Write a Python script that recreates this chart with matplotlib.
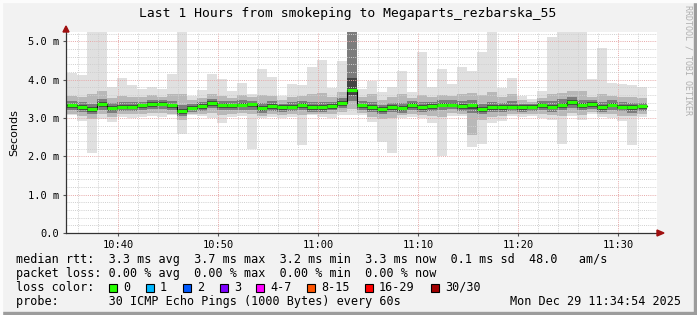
import numpy as np
import matplotlib
matplotlib.use("Agg")
import matplotlib.pyplot as plt
from matplotlib.patches import Rectangle, Polygon

# minutes after 10:00, one bar per minute
start = 34.9
median = [3.34,3.29,3.24,3.36,3.26,3.30,3.30,3.33,3.38,3.38,3.33,3.19,3.26,3.31,3.40,3.34,3.34,3.35,3.36,3.26,
          3.32,3.28,3.30,3.34,3.29,3.29,3.32,3.40,3.74,3.34,3.29,3.23,3.29,3.26,3.34,3.29,3.32,3.35,3.35,3.32,
          3.33,3.24,3.28,3.29,3.30,3.29,3.29,3.34,3.30,3.35,3.41,3.34,3.36,3.29,3.35,3.30,3.29,3.31]
rtt_max = [4.18,4.12,5.3,5.3,3.80,4.04,3.86,3.76,3.80,3.76,4.15,5.3,3.58,3.73,4.15,4.02,3.70,3.91,3.64,4.28,
           4.07,3.59,3.89,3.86,4.33,4.51,3.78,4.49,5.3,3.75,3.97,3.68,3.82,4.24,3.69,4.72,3.80,4.28,3.88,4.33,
           4.22,4.73,5.3,3.78,4.04,3.57,3.50,3.71,5.11,5.3,5.3,5.3,4.02,4.82,3.92,3.89,3.86,3.80]
rtt_min = [3.07,2.93,2.08,2.98,2.89,3.02,3.00,3.02,3.05,3.02,3.07,2.58,3.07,3.05,3.00,2.87,3.02,3.05,2.20,3.00,
           3.02,3.00,3.02,2.30,3.07,3.02,3.00,3.07,3.07,3.07,2.89,2.37,2.08,3.00,3.02,3.00,2.87,2.00,3.05,3.05,
           2.24,2.33,2.87,2.93,3.05,3.02,3.05,3.00,2.95,2.33,3.05,2.95,3.10,3.02,3.00,2.93,2.30,3.02]
p90 = [3.58,3.55,3.62,3.70,3.52,3.58,3.55,3.55,3.60,3.56,3.62,3.62,3.48,3.52,3.62,3.58,3.52,3.60,3.54,3.60,
       3.58,3.48,3.55,3.58,3.62,3.66,3.55,3.68,5.30,3.56,3.62,3.48,3.55,3.62,3.52,3.60,3.56,3.60,3.58,3.62,
       3.66,3.60,3.68,3.54,3.62,3.46,3.42,3.52,3.62,3.66,3.72,3.70,3.56,3.62,3.58,3.56,3.56,3.52]
p75 = [3.45,3.42,3.38,3.50,3.40,3.42,3.42,3.43,3.48,3.47,3.45,3.34,3.38,3.42,3.50,3.45,3.44,3.46,3.45,3.40,
       3.44,3.38,3.41,3.45,3.42,3.42,3.43,3.52,5.30,3.44,3.42,3.34,3.40,3.40,3.44,3.42,3.42,3.46,3.46,3.45,
       3.48,3.38,3.42,3.40,3.44,3.38,3.37,3.44,3.44,3.50,3.54,3.48,3.46,3.42,3.46,3.42,3.40,3.40]
p60 = [3.38,3.33,3.29,3.41,3.31,3.35,3.35,3.37,3.42,3.42,3.38,3.24,3.31,3.36,3.45,3.39,3.38,3.40,3.40,3.31,
       3.37,3.33,3.35,3.39,3.34,3.34,3.37,3.45,4.05,3.38,3.34,3.28,3.34,3.31,3.39,3.34,3.37,3.40,3.40,3.37,
       3.38,3.29,3.33,3.34,3.35,3.34,3.33,3.39,3.35,3.40,3.46,3.39,3.41,3.34,3.40,3.35,3.34,3.35]
p40 = [3.27,3.22,3.17,3.28,3.19,3.23,3.24,3.26,3.30,3.31,3.26,3.12,3.20,3.24,3.32,3.26,3.27,3.28,3.28,3.19,
       3.25,3.21,3.23,3.27,3.22,3.22,3.25,3.32,3.60,3.27,3.22,3.16,3.21,3.19,3.27,3.21,3.25,3.28,3.28,3.25,
       3.24,3.16,3.21,3.22,3.23,3.22,3.23,3.27,3.23,3.27,3.33,3.27,3.29,3.22,3.28,3.23,3.21,3.24]
p25 = [3.22,3.17,3.11,3.22,3.14,3.18,3.19,3.21,3.24,3.25,3.21,3.06,3.15,3.19,3.26,3.20,3.21,3.22,3.22,3.13,
       3.19,3.16,3.18,3.21,3.17,3.17,3.20,3.26,3.45,3.22,3.16,3.10,3.15,3.14,3.21,3.16,3.19,3.22,3.23,3.19,
       3.14,3.10,3.15,3.16,3.18,3.17,3.18,3.22,3.17,3.20,3.26,3.21,3.24,3.16,3.22,3.18,3.14,3.19]
p10 = [3.12,3.06,2.98,3.10,3.03,3.10,3.10,3.12,3.14,3.14,3.12,2.96,3.10,3.12,3.14,3.08,3.12,3.14,3.10,3.06,
       3.10,3.08,3.10,3.08,3.12,3.10,3.10,3.16,3.25,3.14,3.04,2.98,3.00,3.08,3.12,3.08,3.06,3.04,3.14,3.12,
       2.55,2.95,3.04,3.06,3.12,3.10,3.12,3.10,3.08,3.05,3.14,3.08,3.16,3.10,3.12,3.06,3.05,3.10]

tick_min = [40, 50, 60, 70, 80, 90]
tick_lbl = ["10:40", "10:50", "11:00", "11:10", "11:20", "11:30"]
loss_lbl = ["0", "1", "2", "3", "4-7", "8-15", "16-29", "30/30"]
loss_col = ["#26ff00", "#00b8ff", "#0059ff", "#7e00ff", "#ff00ff", "#ff5500", "#ff0000", "#a10000"]

mono = "DejaVu Sans Mono"
bg = "#f2f2f2"

fig = plt.figure(figsize=(6.97, 3.15), dpi=100, facecolor=bg)
ax = fig.add_axes([66/697, 82/315, 591/697, 201/315])
ax.set_facecolor("white")

x = start + np.arange(len(median))
layers = [(rtt_min, rtt_max, "#e0e0e0"), (p10, p90, "#b8b8b8"), (p25, p75, "#7c7c7c"), (p40, p60, "#444444")]
for lo, hi, c in layers:
    lo = np.array(lo); hi = np.array(hi)
    ax.bar(x, hi - lo, bottom=lo, width=1.0, align="edge", color=c, linewidth=0, zorder=1)
md = np.array(median)

# median line: black steps + green segments
ax.step(np.append(x, x[-1] + 1), np.append(md, md[-1]), where="post", color="black", lw=0.8, zorder=3)
ax.hlines(md, x, x + 1, color="#26ff00", lw=2.3, zorder=4)

ax.set_xlim(34.8, 93.9)
ax.set_ylim(0, 5.248)

# grid
for v in np.arange(36, 94, 2):
    c = "#e6a8a8" if v % 10 == 0 else "#cfcfcf"
    ax.axvline(v, color=c, lw=0.7, dashes=(1, 1.2), zorder=2)
for v in np.arange(0.2, 5.21, 0.2):
    c = "#e6a8a8" if abs(v - round(v)) < 1e-6 else "#cfcfcf"
    ax.axhline(v, color=c, lw=0.7, dashes=(1, 1.2), zorder=2)

ax.set_xticks(tick_min)
ax.set_xticklabels(tick_lbl, family=mono, fontsize=7.5)
ax.set_yticks([0, 1, 2, 3, 4, 5])
ax.set_yticklabels(["0.0", "1.0 m", "2.0 m", "3.0 m", "4.0 m", "5.0 m"], family=mono, fontsize=7.5)
ax.tick_params(length=2, width=0.8, colors="#555555", labelcolor="black", pad=3)
for s in ["top", "right"]:
    ax.spines[s].set_visible(False)
for s in ["left", "bottom"]:
    ax.spines[s].set_color("#333333")
    ax.spines[s].set_linewidth(0.9)
    ax.spines[s].set_zorder(5)

ax.set_ylabel("Seconds", fontsize=8, labelpad=6)

# axis arrows
W, H = 697, 315
fig.patches.append(Polygon([[657/W, 1-230/H], [657/W, 1-236/H], [664/W, 1-233/H]], closed=True,
                           transform=fig.transFigure, color="#a01010"))
fig.patches.append(Polygon([[63/W, 1-32/H], [69/W, 1-32/H], [66/W, 1-26/H]], closed=True,
                           transform=fig.transFigure, color="#a01010"))

# 3d frame
fig.patches.append(Rectangle((0, 0), 1, 3/H, transform=fig.transFigure, color="#9c9c9c"))
fig.patches.append(Rectangle((1-3/W, 0), 3/W, 1, transform=fig.transFigure, color="#9c9c9c"))
fig.patches.append(Rectangle((0, 1-2/H), 1, 2/H, transform=fig.transFigure, color="#fcfcfc"))
fig.patches.append(Rectangle((0, 0), 2/W, 1, transform=fig.transFigure, color="#fcfcfc"))

fig.text(348/W, 1-13/H, "Last 1 Hours from smokeping to Megaparts_rezbarska_55", family=mono,
         fontsize=9.4, ha="center", va="center")
fig.text(688/W, 1-60/H, "RRDTOOL / TOBI OETIKER", family=mono, fontsize=6, color="#b0b0b0",
         rotation=-90, ha="center", va="center")

fs = 8.5
fig.text(16/W, 1-259.5/H, "median rtt:  3.3 ms avg  3.7 ms max  3.2 ms min  3.3 ms now  0.1 ms sd  48.0   am/s",
         family=mono, fontsize=fs, va="center")
fig.text(16/W, 1-273.5/H, "packet loss: 0.00 % avg  0.00 % max  0.00 % min  0.00 % now",
         family=mono, fontsize=fs, va="center")
fig.text(16/W, 1-287.5/H, "loss color:", family=mono, fontsize=fs, va="center")
box_x = [109, 146, 183, 220, 256, 307, 365, 431]
for bx, lbl, c in zip(box_x, loss_lbl, loss_col):
    fig.patches.append(Rectangle((bx/W, 1-291.5/H), 8/W, 8/H, transform=fig.transFigure,
                                 facecolor=c, edgecolor="black", lw=0.8))
    fig.text((bx + 14)/W, 1-287.5/H, lbl, family=mono, fontsize=fs, va="center")
fig.text(16/W, 1-301.5/H, "probe:       30 ICMP Echo Pings (1000 Bytes) every 60s",
         family=mono, fontsize=fs, va="center")
fig.text(681/W, 1-301.5/H, "Mon Dec 29 11:34:54 2025", family=mono, fontsize=fs, va="center", ha="right")

fig.savefig("out.png", dpi=100, facecolor=bg)
